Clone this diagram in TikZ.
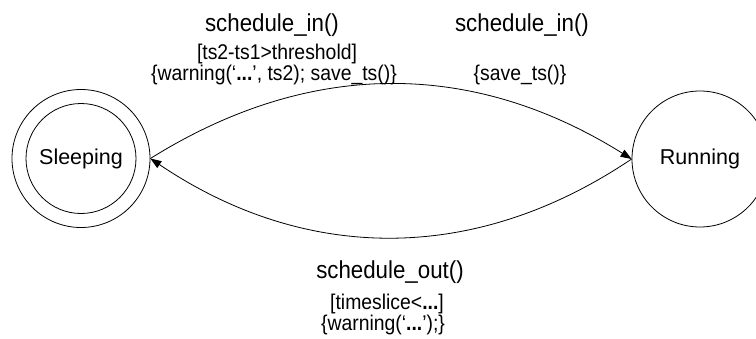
\documentclass[tikz,border=0pt]{standalone}
\usepackage{fontspec}
\setmainfont{Liberation Sans}
\newfontfamily\narrowsans[FakeStretch=0.91]{Liberation Sans}
\usetikzlibrary{arrows.meta}
\begin{document}
\begin{tikzpicture}[x=1pt,y=-1pt,
  ring/.style={circle,draw,line width=0.8pt,inner sep=0pt},
  state/.style={ring,minimum size=136pt,font=\fontsize{21.5}{24}\selectfont},
  big/.style={font=\narrowsans\fontsize{24.5}{28}\selectfont,inner sep=0pt,anchor=base},
  small/.style={font=\narrowsans\fontsize{21.3}{23}\selectfont,inner sep=0pt,anchor=base},
  edge/.style={line width=0.8pt,-{Triangle[length=11pt,width=8pt]}}]
\useasboundingbox (0,0) rectangle (756,338);
\clip (0,0) rectangle (756,338);
\node[ring,minimum size=138pt] (S) at (81,158.5) {};
\node[ring,minimum size=110pt,font=\fontsize{21.5}{24}\selectfont] (Si) at (81,158.5) {Sleeping};
\node[state] (R) at (700,159) {Running};
\draw[edge] (S.east) to[out=32,in=148] (R.west);
\draw[edge] (R.west) to[out=-146,in=-34] (S.east);
\node[big] (t1) at (272,31) {schedule\_in()};
\node[small] (t2) at (277,59) {[ts2-ts1>threshold]};
\node[small] (t3) at (274,80) {\{warning(‘\textbf{...}’, ts2); save\_ts()\}};
\node[big] (t4) at (522,31) {schedule\_in()};
\node[small] (t5) at (520,80) {\{save\_ts()\}};
\node[big] (t6) at (390,278) {schedule\_out()};
\node[small] (t7) at (387,309) {[timeslice<\textbf{...}]};
\node[small] (t8) at (383,330) {\{warning(‘\textbf{...}’);\}};
\end{tikzpicture}
\end{document}
